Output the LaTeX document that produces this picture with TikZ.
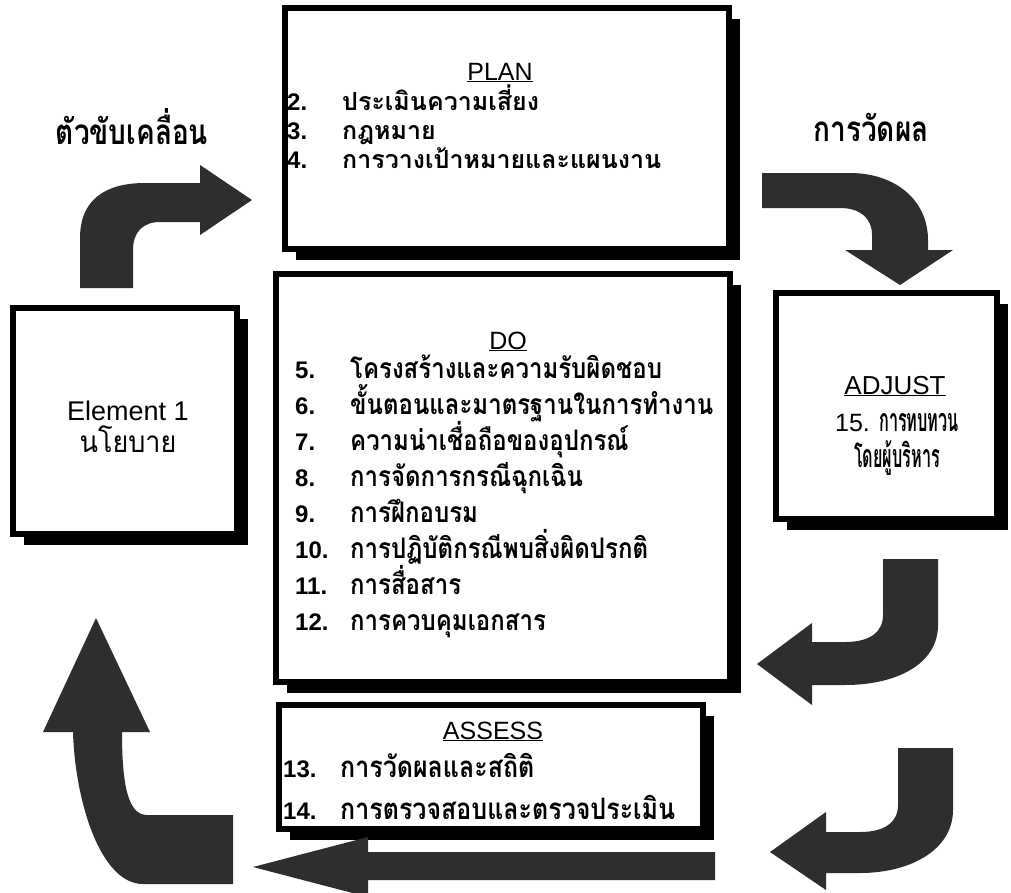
\documentclass[tikz,border=0pt]{standalone}
\usepackage{fontspec}
\usepackage{graphicx}
\setmainfont{Liberation Sans}
\newfontfamily\thai[Script=Thai]{Loma}
\newcommand\tstretch[1]{\scalebox{1}[1.18]{#1}}
\newcommand\tnarrow[1]{\scalebox{0.58}[1.15]{#1}}
\usetikzlibrary{shadows}
\tikzset{
  box/.style={draw=black, line width=6pt, fill=white, inner sep=0pt,
    drop shadow={shadow xshift=11pt, shadow yshift=-11pt, fill=black, opacity=1}},
  arr/.style={fill=black!82},
  ttl/.style={font=\fontsize{25}{25}\selectfont, anchor=base, inner sep=0pt},
  num/.style={font=\fontsize{24}{24}\selectfont\bfseries, anchor=base west, inner sep=0pt},
  th/.style={font=\thai\bfseries\fontsize{24}{24}\selectfont, anchor=base west, inner sep=0pt},
  thb/.style={font=\thai\bfseries\fontsize{25}{25}\selectfont, anchor=base west, inner sep=0pt},
  thc/.style={font=\thai\bfseries\fontsize{28}{28}\selectfont, anchor=base, inner sep=0pt},
  lbl/.style={font=\thai\bfseries\fontsize{28}{28}\selectfont, inner sep=0pt},
}
\begin{document}
\begin{tikzpicture}[x=1pt,y=-1pt]
\useasboundingbox[fill=white] (0,0) rectangle (1011,892);

% boxes
\node[box, minimum width=444pt, minimum height=241pt] (plan) at (507,128.5) {};
\node[box, minimum width=454pt, minimum height=408pt] (do) at (503,478) {};
\node[box, minimum width=424pt, minimum height=124pt] (assess) at (491,767) {};
\node[box, minimum width=224pt, minimum height=226pt] (elem) at (125,421) {};
\node[box, minimum width=221pt, minimum height=226pt] (adjust) at (886.5,406) {};

% arrows
\fill[arr] (80,288) -- (80,238) .. controls (80,200) and (105,183) .. (145,183) -- (200,183) -- (200,165) -- (252,200) -- (200,235) -- (200,222) -- (160,222) .. controls (143,222) and (133,232) .. (133,250) -- (133,288) -- cycle;
\fill[arr] (762,173) -- (850,173) .. controls (895,173) and (928,200) .. (928,240) -- (928,250) -- (953,250) -- (900,285) -- (845,250) -- (872,250) -- (872,235) .. controls (872,218) and (860,208) .. (840,208) -- (762,208) -- cycle;
\fill[arr] (938,559) -- (938,625) .. controls (938,665) and (895,685) .. (845,685) -- (812,685) -- (812,705) -- (757,664) -- (812,623) -- (812,642) -- (845,642) .. controls (870,642) and (883,632) .. (883,615) -- (883,559) -- cycle;
\fill[arr] (953,748) -- (953,810) .. controls (953,850) and (910,873) .. (860,873) -- (826,873) -- (826,890) -- (770,852) -- (826,812) -- (826,832) -- (860,832) .. controls (885,832) and (898,822) .. (898,805) -- (898,748) -- cycle;
\fill[arr] (715,852) -- (368,852) -- (368,837) -- (253,867) -- (368,897) -- (368,880) -- (715,880) -- cycle;
\fill[arr] (96,618) -- (150,732) -- (122,732) .. controls (122,785) and (128,815) .. (147,815) -- (233,815) -- (233,884) -- (143,884) .. controls (100,884) and (75,800) .. (73,732) -- (43,732) -- cycle;

% side labels
\node[lbl] (drv) at (132,127) {\scalebox{1}[1.25]{ตัวขับเคลื่อน}};
\node[lbl] (meas) at (871,127) {\scalebox{1}[1.25]{การวัดผล}};

% PLAN
\node[ttl] (plant) at (500,80) {\underline{PLAN}};
\foreach \n/\t/\y [count=\i] in {2./ประเมินความเสี่ยง/110, 3./กฎหมาย/139, 4./การวางเป้าหมายและแผนงาน/168}{
  \node[num] (pn\i) at (287,\y) {\n};
  \node[thb] (pt\i) at (342,\y) {\t};
}

% DO
\node[ttl] (dot) at (508,349) {\underline{DO}};
\foreach \n/\t/\y [count=\i] in {5./โครงสร้างและความรับผิดชอบ/378, 6./ขั้นตอนและมาตรฐานในการทำงาน/414, 7./ความน่าเชื่อถือของอุปกรณ์/450, 8./การจัดการกรณีฉุกเฉิน/486, 9./การฝึกอบรม/522, 10./การปฏิบัติกรณีพบสิ่งผิดปรกติ/558, 11./การสื่อสาร/594, 12./การควบคุมเอกสาร/630}{
  \node[num] (dn\i) at (295,\y) {\n};
  \node[th] (dt\i) at (350,\y) {\tstretch{\t}};
}

% ASSESS
\node[ttl] (ast) at (493,739) {\underline{ASSESS}};
\node[num] (an1) at (283,777) {13.};
\node[thb] (at1) at (340,777) {\tstretch{การวัดผลและสถิติ}};
\node[num] (an2) at (283,819) {14.};
\node[thb] (at2) at (340,819) {\tstretch{การตรวจสอบและตรวจประเมิน}};

% Element 1
\node[ttl, font=\fontsize{27}{27}\selectfont] (elt) at (128,420) {Element 1};
\node[thc, font=\thai\fontsize{27}{27}\selectfont] (elth) at (128,452) {\scalebox{1}[1.1]{นโยบาย}};

% ADJUST
\node[ttl, font=\fontsize{26}{26}\selectfont] (adt) at (895,394) {\underline{ADJUST}};
\node[anchor=base, inner sep=0pt] (ad1) at (897,431) {\fontsize{25}{25}\selectfont 15. \thai\bfseries\fontsize{28}{28}\selectfont\tnarrow{การทบทวน}};
\node[thc] (ad2) at (897,467) {\tnarrow{โดยผู้บริหาร}};
\end{tikzpicture}
\end{document}
